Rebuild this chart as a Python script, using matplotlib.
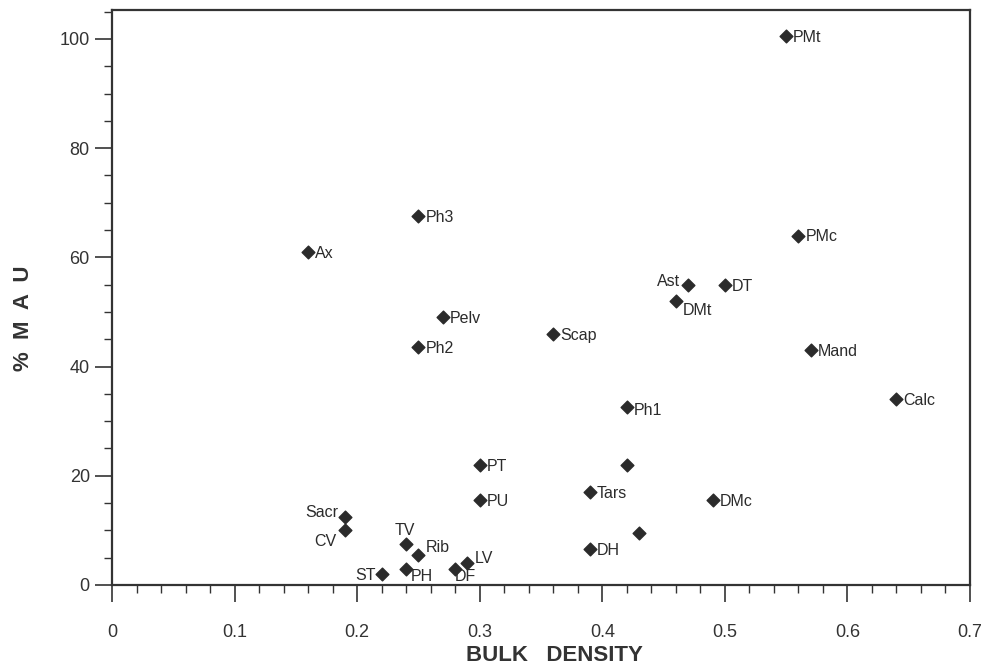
import matplotlib
matplotlib.use("Agg")
import matplotlib.pyplot as plt
from matplotlib.ticker import MultipleLocator

plt.rcParams['font.family'] = ['Liberation Sans', 'DejaVu Sans']

# Bulk density vs %MAU, one entry per skeletal element
labels = ['PMt', 'PMc', 'Ph3', 'Ax', 'Ast', 'DT', 'DMt', 'Pelv', 'Scap', 'Ph2',
          'Mand', 'Calc', 'Ph1', 'PT', '', 'Tars', 'DMc', 'PU', '', 'DH',
          'Sacr', 'CV', 'TV', 'Rib', 'PH', 'ST', 'DF', 'LV']
density = [0.55, 0.56, 0.25, 0.16, 0.47, 0.50, 0.46, 0.27, 0.36, 0.25,
           0.57, 0.64, 0.42, 0.30, 0.42, 0.39, 0.49, 0.30, 0.43, 0.39,
           0.19, 0.19, 0.24, 0.25, 0.24, 0.22, 0.28, 0.29]
mau = [100.5, 64, 67.5, 61, 55, 55, 52, 49, 46, 43.5,
       43, 34, 32.5, 22, 22, 17, 15.5, 15.5, 9.5, 6.5,
       12.5, 10, 7.5, 5.5, 3, 2, 3, 4]

# label offsets in points (dx, dy) and alignment
offsets = {
    'Ast': (-6, 2, 'right'), 'Sacr': (-5, 3, 'right'), 'CV': (-6, -8, 'right'),
    'TV': (-1, 10, 'center'), 'ST': (-4, -1, 'right'), 'PH': (3, -6, 'left'),
    'DF': (0, -6, 'left'), 'LV': (5, 3, 'left'), 'Rib': (5, 5, 'left'),
    'DMt': (5, -7, 'left'), 'Ph1': (5, -2, 'left'),
}

fig = plt.figure(figsize=(9.93, 6.70), dpi=100)
ax = fig.add_axes([0.1128, 0.127, 0.864, 0.858])

ax.scatter(density, mau, marker='D', s=42, color='#2b2b2b', zorder=3)
for name, x, y in zip(labels, density, mau):
    if not name:
        continue
    dx, dy, ha = offsets.get(name, (5, -1, 'left'))
    ax.annotate(name, (x, y), xytext=(dx, dy), textcoords='offset points',
                ha=ha, va='center', fontsize=11.5, color='#2b2b2b')

ax.set_xlim(0, 0.7)
ax.set_ylim(0, 105.3)
ax.xaxis.set_major_locator(MultipleLocator(0.1))
ax.xaxis.set_minor_locator(MultipleLocator(0.02))
ax.yaxis.set_major_locator(MultipleLocator(20))
ax.yaxis.set_minor_locator(MultipleLocator(5))
ax.set_xticks([0, 0.1, 0.2, 0.3, 0.4, 0.5, 0.6, 0.7])
ax.set_xticklabels(['0', '0.1', '0.2', '0.3', '0.4', '0.5', '0.6', '0.7'])
ax.tick_params(which='major', length=12, width=1.2, labelsize=13, color='#333333',
               labelcolor='#333333', pad=4)
ax.tick_params(which='minor', length=6, width=1.0, color='#333333')
ax.tick_params(axis='x', which='major', pad=16)
for s in ax.spines.values():
    s.set_linewidth(1.6)
    s.set_color('#333333')

ax.set_xlabel('BULK   DENSITY', fontsize=16, fontweight='bold', color='#333333')
ax.xaxis.set_label_coords(0.516, -0.105)
ax.set_ylabel('%  M  A  U', fontsize=16, fontweight='bold', color='#333333')
ax.yaxis.set_label_coords(-0.091, 0.464)

fig.savefig('out.png', dpi=100)
